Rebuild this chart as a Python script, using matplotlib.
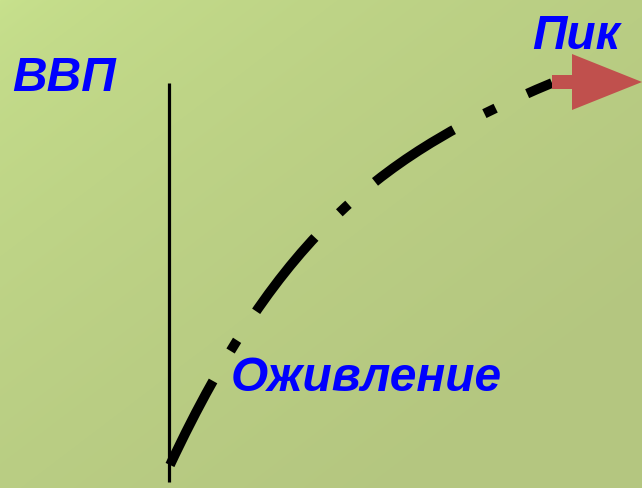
import numpy as np
import matplotlib
matplotlib.use("Agg")
import matplotlib.pyplot as plt
from matplotlib.path import Path
from matplotlib.patches import PathPatch, FancyArrow

# Diagram content (pixel coordinates of the 642x488 canvas)
curve_x = [170, 280, 386, 552]   # cubic Bezier control points
curve_y = [465, 231, 152, 83]
axis_x = [169, 169]
axis_y = [83, 482]
labels = ["ВВП", "Пик", "Оживление"]
label_x = [12, 532, 231]
label_y = [91, 49, 391]

plt.rcParams['lines.scale_dashes'] = False
fig = plt.figure(figsize=(6.42, 4.88), dpi=100)
ax = fig.add_axes([0, 0, 1, 1])
ax.set_xlim(0, 642)
ax.set_ylim(488, 0)
ax.axis('off')

# background gradient
W, H = 642, 488
gx = np.linspace(0, 1, W)[None, :]
gy = np.linspace(0, 1, H)[:, None]
t = np.clip(0.6 * gx + 0.6 * gy, 0, 1) ** 0.6
c0 = np.array([0xc8, 0xe2, 0x8d]) / 255
c1 = np.array([0xb4, 0xc6, 0x80]) / 255
img = c0[None, None, :] * (1 - t[..., None]) + c1[None, None, :] * t[..., None]
ax.imshow(img, extent=[0, 642, 488, 0], aspect='auto', zorder=0)

# vertical axis line
ax.plot(axis_x, axis_y, color='black', lw=2.3, solid_capstyle='butt', zorder=2)

# dash-dot curve
verts = list(zip(curve_x, curve_y))
path = Path(verts, [Path.MOVETO, Path.CURVE4, Path.CURVE4, Path.CURVE4])
patch = PathPatch(path, facecolor='none', edgecolor='black', lw=7.0, zorder=3,
                  capstyle='butt')
patch.set_linestyle((0, (68, 25, 9, 25)))
ax.add_patch(patch)

# red arrow
arr = FancyArrow(curve_x[-1], curve_y[-1] - 1, 642 - curve_x[-1], 0, width=14,
                 head_width=56, head_length=70, length_includes_head=True,
                 color='#c0504d', lw=0, zorder=4)
ax.add_patch(arr)

for s, x, y in zip(labels, label_x, label_y):
    ax.text(x, y, s, color='#0000ff', fontsize=34.5, fontweight='bold',
            fontstyle='italic', family='Liberation Sans', ha='left',
            va='baseline', zorder=5)

fig.savefig('out.png', dpi=100)
